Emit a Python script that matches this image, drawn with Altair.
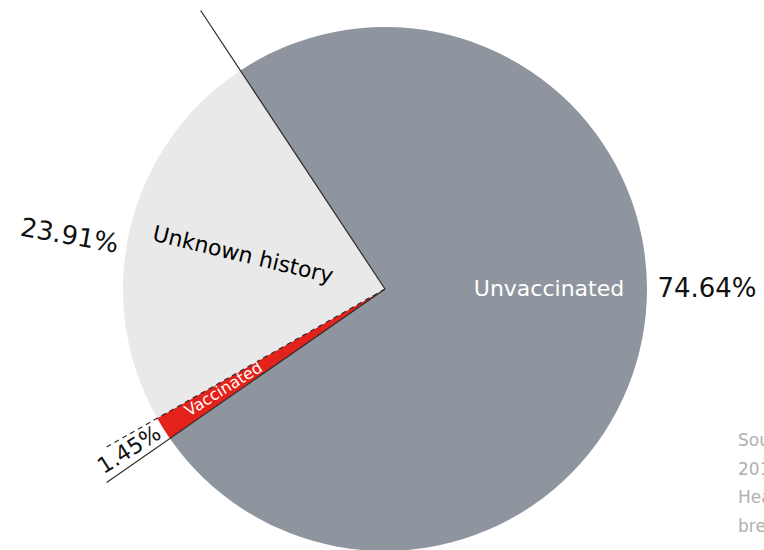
import math

import altair as alt
import numpy as np
import pandas as pd

# Vaccination status of cases
groups = ["Unvaccinated", "Vaccinated", "Unknown history"]
shares = [74.64, 1.45, 23.91]
colors = ["#8e959e", "#e3221b", "#e9e9e9"]

source_lines = [
    "Source: Clark County Public",
    "2019 measles outbreak; Public",
    "Health case counts and status",
    "breakdown of confirmed cases",
]

# Canvas and pie geometry (pixels)
W, H = 764, 550
CX, CY = 385, 289
R = 262
START = 326.5  # degrees clockwise from 12 o'clock where the first slice begins

FONT = "DejaVu Sans"

# --- slices -----------------------------------------------------------------
df = pd.DataFrame({"group": groups, "share": shares, "order": range(len(groups))})
cum = np.concatenate([[0.0], np.cumsum(shares)])
df["a0"] = START + 360 * cum[:-1] / 100
df["a1"] = START + 360 * cum[1:] / 100
df["mid"] = (df["a0"] + df["a1"]) / 2

xs = alt.Scale(domain=[-CX, W - CX], nice=False, zero=False)
ys = alt.Scale(domain=[CY - H, CY], nice=False, zero=False)

start_rad = math.radians(START)
pie = (
    alt.Chart(df)
    .mark_arc(outerRadius=R)
    .encode(
        theta=alt.Theta(
            "share:Q",
            stack=True,
            scale=alt.Scale(range=[start_rad, start_rad + 2 * math.pi]),
        ),
        color=alt.Color(
            "group:N", scale=alt.Scale(domain=groups, range=colors), legend=None
        ),
        order=alt.Order("order:Q"),
        x=alt.value(CX),
        y=alt.value(CY),
    )
)

# --- boundary leader lines from the centre ----------------------------------
# each slice's starting edge: length and dash style
edge_style = {
    "Unvaccinated": (334, False),
    "Vaccinated": (339, False),
    "Unknown history": (322, True),
}
edges = pd.DataFrame(
    {
        "group": groups,
        "ang": df["a0"],
        "len": [edge_style[g][0] for g in groups],
        "dashed": [edge_style[g][1] for g in groups],
    }
)
edges["x0"] = 0.0
edges["y0"] = 0.0
edges["x1"] = edges["len"] * np.sin(np.radians(edges["ang"]))
edges["y1"] = edges["len"] * np.cos(np.radians(edges["ang"]))


def edge_layer(data, dash):
    style = dict(color="#2b2b2b", strokeWidth=1.2)
    if dash:
        style["strokeDash"] = [5, 4]
    return (
        alt.Chart(data)
        .mark_rule(**style)
        .encode(
            x=alt.X("x0:Q", scale=xs, axis=None),
            y=alt.Y("y0:Q", scale=ys, axis=None),
            x2="x1:Q",
            y2="y1:Q",
        )
    )


solid_edges = edge_layer(edges[~edges["dashed"]], False)
dashed_edges = edge_layer(edges[edges["dashed"]], True)

# --- labels -----------------------------------------------------------------
# name: radius, direction offset from slice middle (or fixed direction),
# rotation (None = radial), size; then the same for the value; name colour
place = {
    "Unvaccinated": (164, ("fixed", 90), 0, 22, 322, ("fixed", 90), 0, 26, "white"),
    "Vaccinated": (190, ("mid", 0.3), None, 16, 302, ("mid", 0.0), None, 22, "white"),
    "Unknown history": (146, ("mid", 0), None, 22, 320, ("fixed", 279.5), 10, 26, "black"),
}


def radial(d):
    # text reading inward toward the centre on the left-hand side
    return (d - 270) % 360


def direction(spec, mid):
    kind, v = spec
    return v if kind == "fixed" else mid + v


rows = []
for _, s in df.iterrows():
    nr, nd, nrot, nsz, vr, vd, vrot, vsz, ncol = place[s["group"]]
    nd = direction(nd, s["mid"])
    vd = direction(vd, s["mid"])
    nrot = radial(nd) if nrot is None else nrot
    vrot = radial(vd) if vrot is None else vrot
    rows.append(
        dict(text=s["group"], x=nr * math.sin(math.radians(nd)),
             y=nr * math.cos(math.radians(nd)), rot=nrot, size=nsz, col=ncol)
    )
    rows.append(
        dict(text=f"{s['share']:.2f}%", x=vr * math.sin(math.radians(vd)),
             y=vr * math.cos(math.radians(vd)), rot=vrot, size=vsz, col="#111111")
    )
labels_df = pd.DataFrame(rows)

labels = (
    alt.Chart(labels_df)
    .mark_text(font=FONT, align="center", baseline="middle")
    .encode(
        x=alt.X("x:Q", scale=xs, axis=None),
        y=alt.Y("y:Q", scale=ys, axis=None),
        text="text:N",
        angle=alt.Angle("rot:Q", scale=None),
        size=alt.Size("size:Q", scale=None, legend=None),
        color=alt.Color("col:N", scale=None, legend=None),
    )
)

note = (
    alt.Chart(pd.DataFrame({"t": ["\n".join(source_lines)]}))
    .mark_text(
        font=FONT,
        fontSize=17,
        color="#b0b0b0",
        align="left",
        baseline="alphabetic",
        lineBreak="\n",
        lineHeight=28.5,
        clip=True,
    )
    .encode(text="t:N", x=alt.value(738), y=alt.value(446))
)

chart = (
    alt.layer(pie, solid_edges, dashed_edges, labels, note)
    .properties(width=W, height=H, padding=0, autosize=alt.AutoSizeParams(type="none"))
    .configure_view(stroke=None)
)

chart.save("out.html", embed_options={"renderer": "svg", "actions": False})
